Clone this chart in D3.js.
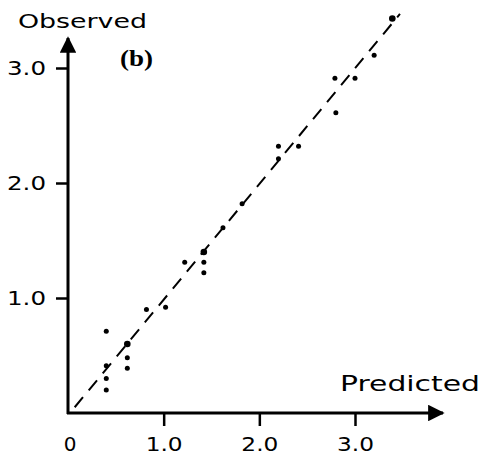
<!DOCTYPE html>
<html>
<head>
<meta charset="utf-8">
<script src="https://cdn.jsdelivr.net/npm/d3@7"></script>
<style>
  html, body { margin: 0; padding: 0; background: #fff; }
  svg { display: block; }
  .lbl { font-family: "DejaVu Sans", sans-serif; fill: #000; }
</style>
</head>
<body>
<svg id="chart" width="485" height="461"></svg>
<script>
// Predicted vs. observed values
const predicted = [0.40, 0.62, 0.40, 0.62, 0.62, 0.40, 0.40, 0.82, 1.02, 1.22, 1.42, 1.42, 1.42, 1.62, 1.82, 2.20, 2.20, 2.41, 2.80, 2.79, 3.00, 3.20, 3.39];
const observed  = [0.71, 0.60, 0.41, 0.48, 0.39, 0.30, 0.20, 0.90, 0.92, 1.31, 1.40, 1.31, 1.22, 1.61, 1.82, 2.21, 2.32, 2.32, 2.61, 2.91, 2.91, 3.11, 3.43];
const emphasis  = [false, true, false, false, false, false, false, false, false, false, true, false, false, false, false, false, false, false, false, false, false, false, true];
const tickValues = [1, 2, 3];
const tickLabels = ["1.0", "2.0", "3.0"];
const xTitle = "Predicted";
const yTitle = "Observed";
const panelTag = "(b)";

const svg = d3.select("#chart");
const x = d3.scaleLinear().domain([0, 3]).range([68, 355]);
const y = d3.scaleLinear().domain([0, 3]).range([413, 68]);

const x0 = x(0), y0 = y(0);

// arrow heads
const defs = svg.append("defs");
defs.append("marker").attr("id", "arrow")
  .attr("viewBox", "0 0 10 10").attr("refX", 9).attr("refY", 5)
  .attr("markerWidth", 5.5).attr("markerHeight", 5.5)
  .attr("markerUnits", "strokeWidth").attr("orient", "auto")
  .append("path").attr("d", "M0,0 L10,5 L0,10 Z").attr("fill", "#000");

// x axis
const xAxis = d3.axisBottom(x).tickValues(tickValues).tickSize(13).tickFormat("").tickSizeOuter(0);
const gx = svg.append("g").attr("transform", `translate(0,${y0})`).call(xAxis);
gx.select(".domain").remove();
gx.selectAll(".tick line").attr("stroke", "#000").attr("stroke-width", 2.5);

// y axis
const yAxis = d3.axisLeft(y).tickValues(tickValues).tickSize(12).tickFormat("").tickSizeOuter(0);
const gy = svg.append("g").attr("transform", `translate(${x0},0)`).call(yAxis);
gy.select(".domain").remove();
gy.selectAll(".tick line").attr("stroke", "#000").attr("stroke-width", 2.5);

// axis lines with arrows
svg.append("line").attr("x1", x0 - 1).attr("y1", y0).attr("x2", 443).attr("y2", y0)
  .attr("stroke", "#000").attr("stroke-width", 3).attr("marker-end", "url(#arrow)");
svg.append("line").attr("x1", x0).attr("y1", y0 + 1).attr("x2", x0).attr("y2", 38)
  .attr("stroke", "#000").attr("stroke-width", 3).attr("marker-end", "url(#arrow)");

// tick labels
svg.append("g").selectAll("text").data(tickValues).join("text")
  .attr("class", "lbl").attr("x", d => x(d) - 18).attr("y", 451)
  .attr("font-size", 20).attr("textLength", 37).attr("lengthAdjust", "spacingAndGlyphs")
  .text((d, i) => tickLabels[i]);
svg.append("text").attr("class", "lbl").attr("x", x(0) + 2).attr("y", 451)
  .attr("text-anchor", "middle").attr("font-size", 20).text("0");
svg.append("g").selectAll("text").data(tickValues).join("text")
  .attr("class", "lbl").attr("x", 7).attr("y", d => y(d) + 7)
  .attr("font-size", 20).attr("textLength", 39).attr("lengthAdjust", "spacingAndGlyphs")
  .text((d, i) => tickLabels[i]);

// axis titles
svg.append("text").attr("class", "lbl").attr("x", 18).attr("y", 28)
  .attr("font-size", 20).attr("textLength", 129).attr("lengthAdjust", "spacingAndGlyphs")
  .text(yTitle);
svg.append("text").attr("class", "lbl").attr("x", 340).attr("y", 391)
  .attr("font-size", 21).attr("textLength", 140).attr("lengthAdjust", "spacingAndGlyphs")
  .text(xTitle);

// panel tag
svg.append("text").attr("x", 120).attr("y", 66)
  .attr("font-family", "'Liberation Serif', 'Times New Roman', serif")
  .attr("font-weight", "bold").attr("font-size", 23)
  .attr("textLength", 33).attr("lengthAdjust", "spacingAndGlyphs")
  .text(panelTag);

// 1:1 reference line
svg.append("line")
  .attr("x1", x(0.07)).attr("y1", y(0.05))
  .attr("x2", x(3.47)).attr("y2", y(3.47))
  .attr("stroke", "#000").attr("stroke-width", 2)
  .attr("stroke-dasharray", "13,9");

// observations
svg.append("g").selectAll("circle").data(predicted).join("circle")
  .attr("cx", d => x(d))
  .attr("cy", (d, i) => y(observed[i]))
  .attr("r", (d, i) => emphasis[i] ? 3.3 : 2.5)
  .attr("fill", "#000");
</script>
</body>
</html>
